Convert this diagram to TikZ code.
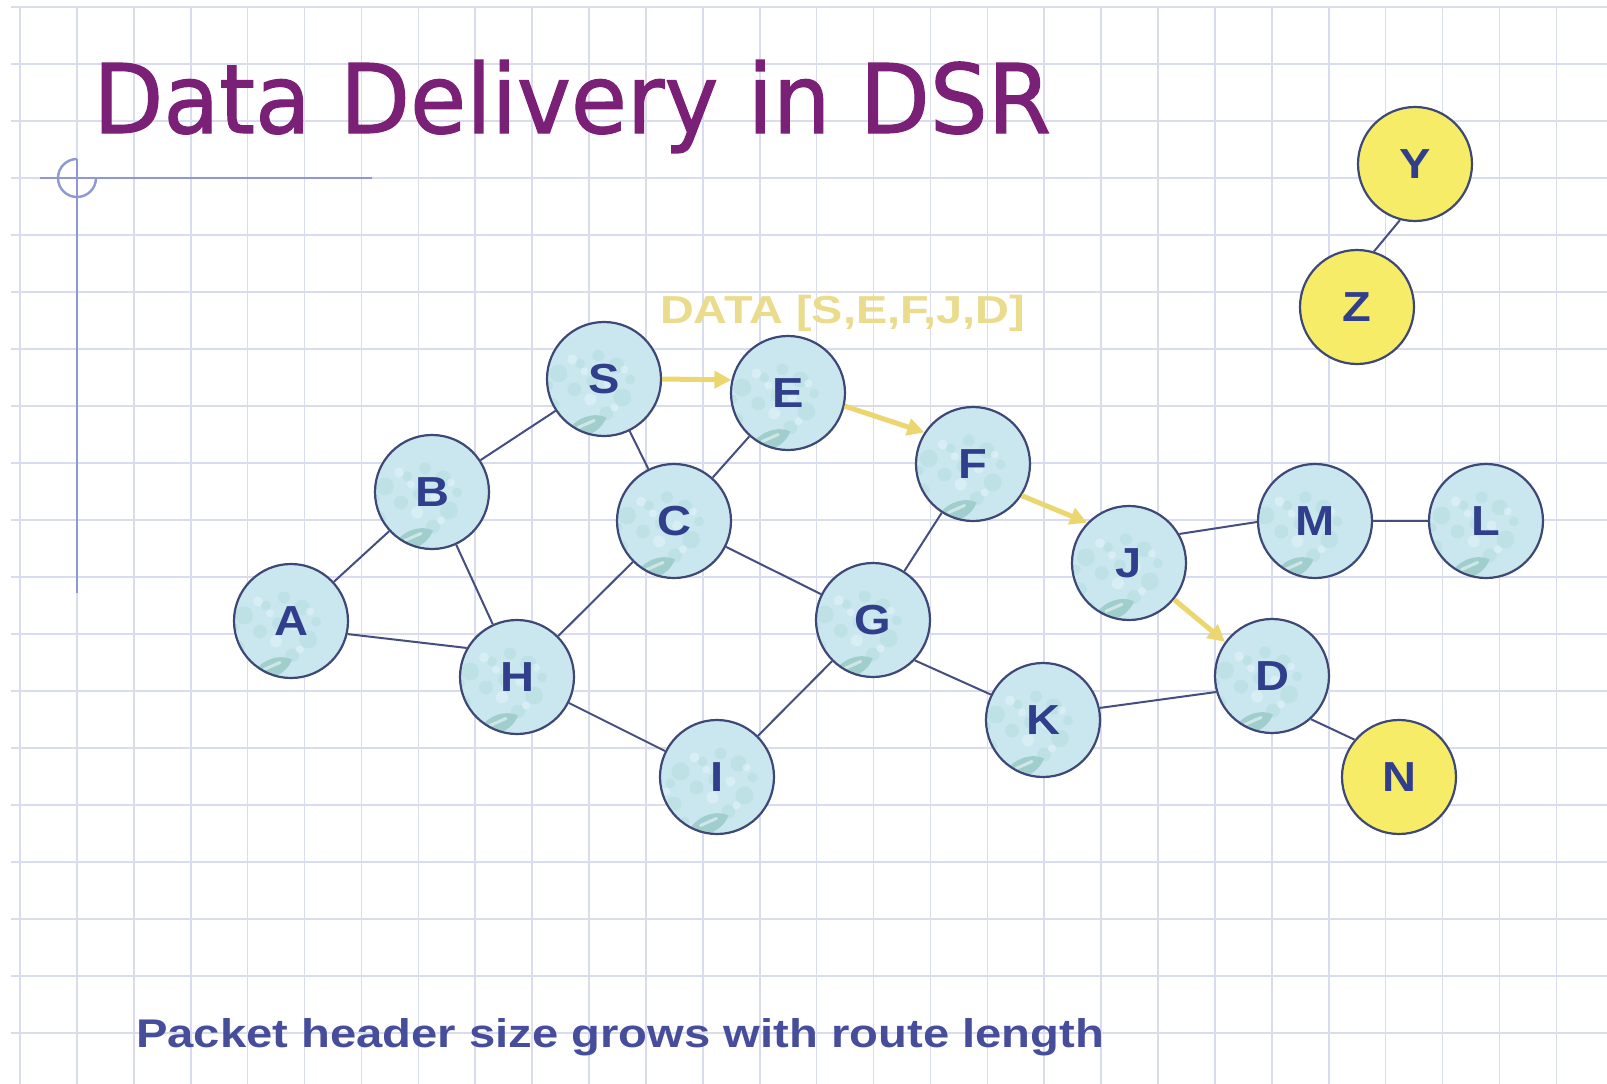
\documentclass[tikz,border=0pt]{standalone}
\usepackage{fontspec}
\setmainfont{Liberation Sans}
\newfontfamily\titlefont[FakeBold=1.2]{DejaVu Sans}
\usetikzlibrary{arrows.meta}

\definecolor{gridline}{RGB}{216,220,238}
\definecolor{titlepurple}{RGB}{122,32,118}
\definecolor{decoline}{RGB}{142,152,212}
\definecolor{nodefill}{RGB}{202,231,239}
\definecolor{nodespot}{RGB}{170,214,216}
\definecolor{nodelight}{RGB}{226,243,248}
\definecolor{nodedrop}{RGB}{156,204,202}
\definecolor{noderim}{RGB}{62,72,118}
\definecolor{labelblue}{RGB}{48,62,140}
\definecolor{linkblue}{RGB}{70,78,128}
\definecolor{hostyellow}{RGB}{246,236,104}
\definecolor{pathyellow}{RGB}{236,214,112}
\definecolor{datayellow}{RGB}{234,220,140}
\definecolor{notetext}{RGB}{70,78,156}

% node letters are set a little wider than the font's own shapes
\newcommand\hostlabel[1]{\scalebox{1.12}[1]{#1}}

\tikzset{
  host/.style={circle, minimum size=114pt, inner sep=0pt, draw=noderim,
    line width=2.2pt, text=labelblue,
    font=\fontsize{42}{42}\selectfont\bfseries},
  mobile/.style={host, fill=nodefill,
    path picture={
      \begin{scope}[shift={(path picture bounding box.center)}]
        % mottled surface
        \foreach \px/\py/\pr in {-30/20/9, 28/28/8, -36/-12/7, 34/-4/9,
                                 10/38/6, -14/4/7, 18/-20/7, -26/-30/5,
                                 42/14/5, -8/30/5, 4/12/6, -40/8/5}
          \fill[nodespot, opacity=0.35] (\px,\py) circle (\pr pt);
        \foreach \px/\py/\pr in {-16/34/5, 20/10/5, -44/0/4, 2/-6/6,
                                 -4/22/4, 26/-14/4, 36/24/4}
          \fill[nodelight, opacity=0.6] (\px,\py) circle (\pr pt);
        % the drop near the bottom
        \fill[nodedrop, opacity=0.9] (-22,-40) .. controls (-14,-24) and (6,-18) .. (18,-24)
          .. controls (12,-40) and (-8,-48) .. cycle;
        \draw[white, opacity=0.5, line width=3pt, line cap=round] (-10,-34) -- (6,-27);
      \end{scope}
    }},
  idle/.style={host, fill=hostyellow},
  link/.style={draw=linkblue, line width=2pt},
  hop/.style={draw=pathyellow, line width=5pt,
    -{Triangle[length=17pt, width=17pt]}},
  caption/.style={anchor=base west, inner sep=0pt},
}

\begin{document}
\begin{tikzpicture}[x=1pt, y=1pt]
  % page
  \fill[white] (0,0) rectangle (1607,-1084);
  \useasboundingbox (0,0) rectangle (1607,-1084);

  % squared paper
  \foreach \k in {0,...,18}
    \draw[gridline, line width=1.6pt] (11,{-7-57*\k}) -- (1607,{-7-57*\k});
  \foreach \k in {0,...,27}
    \draw[gridline, line width=1.6pt] ({20+56.9*\k},-7) -- ({20+56.9*\k},-1084);

  % corner ornament
  \draw[decoline, line width=2.4pt] (40,-178) -- (372,-178);
  \draw[decoline, line width=2.4pt] (77,-159) -- (77,-593);
  \draw[decoline, line width=2.4pt] (77,-159) arc[start angle=90, end angle=360, radius=19pt];

  % title
  \node[caption, text=titlepurple, font=\titlefont\fontsize{96}{96}\selectfont]
    (title) at (93,-133) {\scalebox{0.95}[1]{Data Delivery in DSR}};

  % hosts
  \node[mobile] (S) at (604,-379) {\hostlabel{S}};
  \node[mobile] (E) at (788,-393) {\hostlabel{E}};
  \node[mobile] (F) at (973,-464) {\hostlabel{F}};
  \node[mobile] (B) at (432,-492) {\hostlabel{B}};
  \node[mobile] (C) at (674,-521) {\hostlabel{C}};
  \node[mobile] (A) at (291,-621) {\hostlabel{A}};
  \node[mobile] (H) at (517,-677) {\hostlabel{H}};
  \node[mobile] (G) at (873,-620) {\hostlabel{G}};
  \node[mobile] (I) at (717,-777) {\hostlabel{I}};
  \node[mobile] (K) at (1043,-720) {\hostlabel{K}};
  \node[mobile] (J) at (1129,-563) {\hostlabel{J}};
  \node[mobile] (M) at (1315,-521) {\hostlabel{M}};
  \node[mobile] (L) at (1486,-521) {\hostlabel{L}};
  \node[mobile] (D) at (1272,-676) {\hostlabel{D}};
  \node[idle]   (N) at (1399,-777) {\hostlabel{N}};
  \node[idle]   (Y) at (1415,-164) {\hostlabel{Y}};
  \node[idle]   (Z) at (1357,-307) {\hostlabel{Z}};

  % links
  \draw[link] (S) -- (B);
  \draw[link] (S) -- (C);
  \draw[link] (C) -- (E);
  \draw[link] (A) -- (B);
  \draw[link] (B) -- (H);
  \draw[link] (A.-13) -- (H.150);
  \draw[link] (C) -- (H);
  \draw[link] (C) -- (G);
  \draw[link] (H) -- (I);
  \draw[link] (I) -- (G);
  \draw[link] (G) -- (F);
  \draw[link] (G.-44) -- (K.154);
  \draw[link] (K.12) -- (D.196);
  \draw[link] (J.30) -- (M.181);
  \draw[link] (M) -- (L);
  \draw[link] (D.-48) -- (N.140);
  \draw[link] (Y.-105) -- (Z.73);

  % data packet route
  \draw[hop] (S.0) -- (E.167);
  \draw[hop] (E.-13) -- (F.147);
  \draw[hop] (F.-33) -- (J.136);
  \draw[hop] (J.-39) -- (D.144);

  \node[caption, text=datayellow, font=\fontsize{39}{39}\selectfont\bfseries]
    (header) at (660,-323) {\scalebox{1.2}[1]{DATA [S,E,F,J,D]}};

  % footnote
  \node[caption, text=notetext, font=\fontsize{40}{40}\selectfont\bfseries]
    (note) at (136,-1047) {\scalebox{1.18}[1]{Packet header size grows with route length}};
\end{tikzpicture}
\end{document}
